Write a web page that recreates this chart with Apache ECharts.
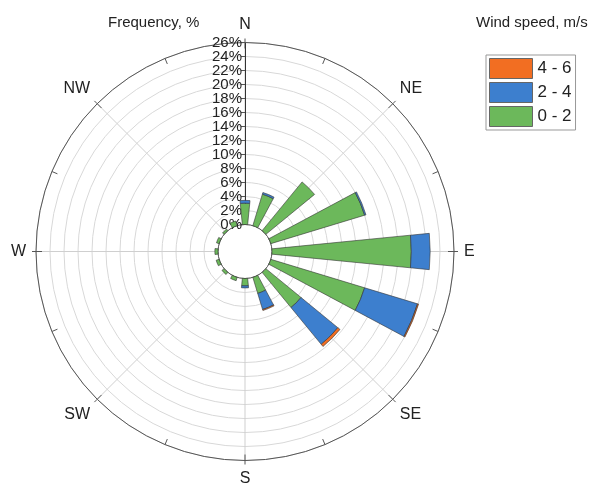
<!DOCTYPE html>
<html>
<head>
<meta charset="utf-8">
<script src="https://cdn.jsdelivr.net/npm/echarts@6/dist/echarts.min.js"></script>
<style>html,body{margin:0;padding:0;background:#fff}#c{width:591px;height:485px}</style>
</head>
<body>
<div id="c"></div>
<script>
var directions = ['N','NNE','NE','ENE','E','ESE','SE','SSE','S','SSW','SW','WSW','W','WNW','NW','NNW'];
var speed02 = [3.05, 4.7, 9.0, 14.0, 19.9, 14.0, 6.5, 2.4, 1.05, 0.5, 0.4, 0.45, 0.45, 0.4, 0.3, 0.7];
var speed24 = [0.4, 0.25, 0, 0.2, 2.7, 7.9, 6.8, 2.4, 0.3, 0, 0, 0, 0, 0, 0, 0];
var speed46 = [0, 0, 0, 0, 0, 0.15, 0.4, 0.15, 0, 0, 0, 0, 0, 0, 0, 0];
var compassValues = [0, 45, 90, 135, 180, 225, 270, 315];
var compassLabels = ['N','NE','E','SE','S','SW','W','NW'];
var radiusMin = 0, radiusMax = 26, radiusStep = 2;
var altLabels = [2, 24];

var font = 'Liberation Sans, Arial, sans-serif';
var chart = echarts.init(document.getElementById('c'));
var center = [245, 251.5];
var radius = [27, 209];
function mk(name, data, color) {
  return {
    name: name, type: 'bar',
    data: data.map(function (v) { return v === 0 ? null : v; }),
    coordinateSystem: 'polar', polarIndex: 0,
    stack: 'total', barCategoryGap: '50%',
    itemStyle: { color: color, borderColor: '#333', borderWidth: 0.6 },
    silent: true, z: 3
  };
}
var hiddenAngle = { axisLine: { show: false }, axisTick: { show: false }, axisLabel: { show: false }, splitLine: { show: false } };
var labelBase = { fontSize: 15, color: '#222', margin: 3, fontFamily: font, showMinLabel: true, showMaxLabel: true, hideOverlap: false };
chart.setOption({
  animation: false,
  textStyle: { fontFamily: font },
  title: [
    { text: 'Frequency, %', left: 103, top: 10, textStyle: { fontSize: 15, fontWeight: 'normal', color: '#222', fontFamily: font } },
    { text: 'Wind speed, m/s', left: 471, top: 10, textStyle: { fontSize: 15, fontWeight: 'normal', color: '#222', fontFamily: font } }
  ],
  legend: {
    data: ['4 - 6', '2 - 4', '0 - 2'],
    orient: 'vertical', left: 486, top: 55,
    icon: 'rect',
    itemWidth: 43, itemHeight: 20, itemGap: 3,
    itemStyle: { borderWidth: 1, borderColor: '#666' },
    borderColor: '#999', borderWidth: 1, padding: [3, 4, 3, 3],
    textStyle: { fontSize: 17, color: '#222', fontFamily: font },
    selectedMode: false
  },
  polar: [
    { center: center, radius: radius },
    { center: center, radius: radius },
    { center: center, radius: radius }
  ],
  angleAxis: [
    Object.assign({ polarIndex: 0, type: 'category', data: directions, startAngle: 90 + 11.25, clockwise: true }, hiddenAngle),
    {
      polarIndex: 1, type: 'value', min: 0, max: 360, interval: 45, startAngle: 90, clockwise: true,
      axisLine: { show: true, lineStyle: { color: '#555', width: 1 } },
      axisTick: { show: true, inside: false, length: 4, lineStyle: { color: '#555' } },
      axisLabel: {
        margin: 10, fontSize: 16, color: '#222', fontFamily: font,
        formatter: function (v) { var i = compassValues.indexOf(v); return i >= 0 ? compassLabels[i] : ''; }
      },
      splitLine: { show: true, lineStyle: { color: '#cfcfcf', width: 1 } }
    },
    {
      polarIndex: 2, type: 'value', min: 0, max: 360, interval: 22.5, startAngle: 90, clockwise: true,
      axisLine: { show: false },
      axisTick: { show: true, inside: true, length: 6, lineStyle: { color: '#555' } },
      axisLabel: { show: false }, splitLine: { show: false }
    }
  ],
  radiusAxis: [
    {
      polarIndex: 0, type: 'value', min: radiusMin, max: radiusMax, show: false,
      axisLine: { show: false }, axisLabel: { show: false }, splitLine: { show: false }, axisTick: { show: false }
    },
    {
      polarIndex: 1, type: 'value', min: radiusMin, max: radiusMax, interval: radiusStep,
      axisLine: { show: true, lineStyle: { color: '#333', width: 1 } },
      axisTick: { show: true, inside: true, length: 4, lineStyle: { color: '#555' } },
      axisLabel: Object.assign({ formatter: function (v) { return altLabels.indexOf(v) >= 0 ? '' : v + '%'; } }, labelBase),
      splitLine: { show: true, lineStyle: { color: '#d8d8d8', width: 1 } }
    },
    {
      polarIndex: 2, type: 'value', min: radiusMin, max: radiusMax, interval: radiusStep,
      axisLine: { show: false }, axisTick: { show: false }, splitLine: { show: false },
      axisLabel: Object.assign({ formatter: function (v) { return altLabels.indexOf(v) >= 0 ? v + '%' : ''; } }, labelBase)
    }
  ],
  series: [
    mk('0 - 2', speed02, '#6cb85b'),
    mk('2 - 4', speed24, '#3d7fce'),
    mk('4 - 6', speed46, '#f26e22')
  ]
});
</script>
</body>
</html>
